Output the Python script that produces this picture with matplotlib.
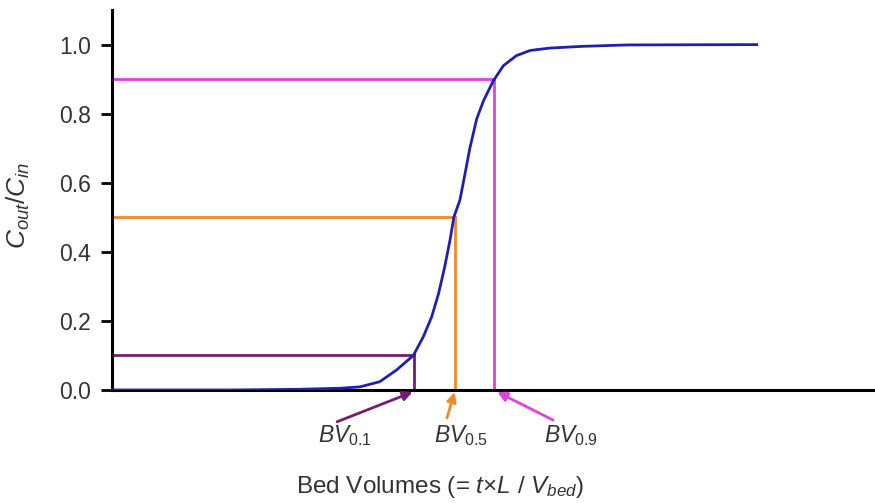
import numpy as np
import matplotlib.pyplot as plt

plt.rcParams['font.family'] = ['Liberation Sans', 'DejaVu Sans']
plt.rcParams['mathtext.fontset'] = 'custom'
plt.rcParams['mathtext.rm'] = 'Liberation Sans'
plt.rcParams['mathtext.it'] = 'Liberation Sans:italic'

# breakthrough curve
bv = [0, 1.59, 2.46, 2.99, 3.25, 3.51, 3.73, 3.95, 4.08, 4.19, 4.28, 4.36,
      4.43, 4.48, 4.56, 4.63, 4.69, 4.78, 4.87, 5.00, 5.13, 5.30, 5.48,
      5.74, 6.17, 6.75, 8.45]
c = [0, 0.0, 0.002, 0.005, 0.009, 0.024, 0.058, 0.10, 0.154, 0.212, 0.279,
     0.356, 0.434, 0.50, 0.55, 0.63, 0.70, 0.785, 0.838, 0.896, 0.939, 0.968,
     0.983, 0.990, 0.995, 0.999, 1.0]

levels = [0.1, 0.5, 0.9]
bv_marks = [3.96, 4.49, 5.01]
labels = ['$BV_{0.1}$', '$BV_{0.5}$', '$BV_{0.9}$']
colors = ['#761b74', '#ee8a2e', '#e040e0']

fig = plt.figure(figsize=(8.75, 5.03), dpi=100)
ax = fig.add_axes([0.128, 0.2247, 0.872, 0.7553])

ax.plot(bv, c, color='#2020b0', lw=2.0, zorder=3, solid_joinstyle='round')

for lv, x, col in zip(levels, bv_marks, colors):
    ax.plot([0, x], [lv, lv], color=col, lw=2.0, zorder=2)
    ax.plot([x, x], [lv, 0], color=col, lw=2.0, zorder=2)

# arrows and labels under the axis
tails = [(-1.01, -0.092), (-0.10, -0.081), (0.77, -0.087)]
heads = [-0.02, 0.0, 0.04]
txt_dx = [-0.91, 0.08, 1.01]
for x, lab, col, (dx, ty), hx, tdx in zip(bv_marks, labels, colors, tails, heads, txt_dx):
    ax.annotate('', xy=(x + hx, -0.006), xytext=(x + dx, ty),
                arrowprops=dict(arrowstyle='-|>', color=col, lw=2.0,
                                mutation_scale=14, shrinkA=0, shrinkB=0),
                annotation_clip=False)
    ax.text(x + tdx, -0.133, lab, ha='center', va='center', fontsize=16.5,
            color='#333333', clip_on=False)

ax.set_xlim(0, 10)
ax.set_ylim(0, 1.1)
ax.set_xticks([])
ax.set_yticks([0, 0.2, 0.4, 0.6, 0.8, 1.0])
ax.set_yticklabels(['0.0', '0.2', '0.4', '0.6', '0.8', '1.0'])
ax.tick_params(axis='y', length=8, width=2, labelsize=16.5, labelcolor='#333333', pad=7)

for s in ['top', 'right']:
    ax.spines[s].set_visible(False)
ax.spines['left'].set_linewidth(2.2)
ax.spines['bottom'].set_linewidth(2.2)

fig.text(0.021, 0.592, r'$C_{out}/C_{in}$', rotation=90, ha='center', va='center',
         fontsize=19, color='#333333')
fig.text(0.503, 0.032, r'Bed Volumes (= $t$×$L$ / $V_{bed}$)', ha='center',
         va='center', fontsize=17.5, color='#333333')

fig.savefig('out.png', dpi=100)
